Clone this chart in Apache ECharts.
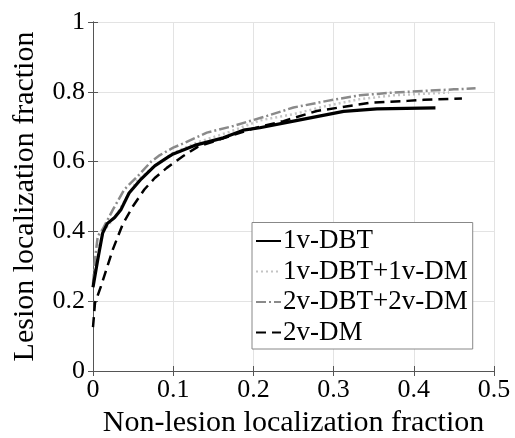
<!DOCTYPE html>
<html>
<head>
<meta charset="utf-8">
<script src="https://cdn.jsdelivr.net/npm/echarts@6/dist/echarts.min.js"></script>
<style>html,body{margin:0;padding:0;background:#fff}#c{width:515px;height:438px}</style>
</head>
<body>
<div id="c"></div>
<script>
var seriesNames = ['1v-DBT', '1v-DBT+1v-DM', '2v-DBT+2v-DM', '2v-DM'];
var xTitle = 'Non-lesion localization fraction';
var yTitle = 'Lesion localization fraction';

var dbt1v = [[0,0.24],[0.003,0.28],[0.006,0.32],[0.012,0.395],[0.018,0.423],[0.027,0.44],[0.035,0.463],[0.045,0.51],[0.06,0.55],[0.077,0.588],[0.093,0.612],[0.1,0.622],[0.129,0.648],[0.1625,0.668],[0.1875,0.69],[0.208,0.697],[0.25,0.716],[0.3125,0.744],[0.354,0.751],[0.427,0.754]];
var dbt1vdm1v = [[0,0.245],[0.004,0.3],[0.008,0.36],[0.013,0.4],[0.02,0.42],[0.03,0.45],[0.04,0.49],[0.055,0.545],[0.075,0.585],[0.1,0.625],[0.13,0.655],[0.17,0.685],[0.208,0.718],[0.25,0.736],[0.292,0.76],[0.333,0.779],[0.375,0.79],[0.444,0.798]];
var dbt2vdm2v = [[0,0.25],[0.003,0.33],[0.006,0.387],[0.012,0.406],[0.025,0.463],[0.039,0.52],[0.056,0.559],[0.0725,0.6],[0.083,0.618],[0.1,0.64],[0.1125,0.652],[0.142,0.683],[0.175,0.702],[0.217,0.731],[0.25,0.755],[0.292,0.774],[0.333,0.79],[0.375,0.798],[0.417,0.803],[0.45,0.807],[0.477,0.81]];
var dm2v = [[0,0.126],[0.0025,0.195],[0.01,0.243],[0.025,0.35],[0.037,0.42],[0.05,0.473],[0.064,0.52],[0.077,0.553],[0.092,0.582],[0.1125,0.616],[0.131,0.643],[0.16,0.665],[0.2,0.695],[0.2375,0.716],[0.279,0.745],[0.346,0.769],[0.392,0.774],[0.4125,0.777],[0.46,0.781]];

var FONT = '"Liberation Serif", "Times New Roman", serif';
var chart = echarts.init(document.getElementById('c'), null, {renderer: 'canvas'});
var axisCommon = {
  axisLine: {show: true, lineStyle: {color: '#555', width: 1}},
  axisTick: {show: true, inside: true, length: 5, lineStyle: {color: '#555'}},
  splitLine: {show: true, lineStyle: {color: '#e3e3e3', width: 1}}
};
chart.setOption({
  animation: false,
  backgroundColor: '#fff',
  grid: {left: 93, right: 21, top: 22, bottom: 67, containLabel: false, outerBoundsMode: 'none'},
  legend: {
    orient: 'vertical', left: 252, top: 222.5,
    padding: [5, 5, 3, 3],
    itemWidth: 25, itemHeight: 14, itemGap: 3.5,
    backgroundColor: '#fff', borderColor: '#888', borderWidth: 1,
    itemStyle: {opacity: 0, borderWidth: 0},
    textStyle: {fontFamily: FONT, fontSize: 27, color: '#000', lineHeight: 27, padding: [0,0,0,-3]},
    data: seriesNames
  },
  xAxis: [
    Object.assign({type: 'value', min: 0, max: 0.5, interval: 0.1,
      name: xTitle, nameLocation: 'middle', nameGap: 36,
      nameTextStyle: {fontFamily: FONT, fontSize: 30, color: '#000'},
      axisLabel: {fontFamily: FONT, fontSize: 26, color: '#000', margin: 6}}, axisCommon),
    {type: 'value', position: 'top', min: 0, max: 0.5, interval: 0.1,
      axisLine: {show: true, lineStyle: {color: '#555'}},
      axisTick: {show: true, inside: true, length: 5, lineStyle: {color: '#555'}},
      axisLabel: {show: false}, splitLine: {show: false}}
  ],
  yAxis: [
    Object.assign({type: 'value', min: 0, max: 1, interval: 0.2,
      name: yTitle, nameLocation: 'middle', nameGap: 53,
      nameTextStyle: {fontFamily: FONT, fontSize: 30, color: '#000'},
      axisLabel: {fontFamily: FONT, fontSize: 26, color: '#000', margin: 8}}, axisCommon),
    {type: 'value', position: 'right', min: 0, max: 1, interval: 0.2,
      axisLine: {show: true, lineStyle: {color: '#555'}},
      axisTick: {show: true, inside: true, length: 5, lineStyle: {color: '#555'}},
      axisLabel: {show: false}, splitLine: {show: false}}
  ],
  series: [
    {name: seriesNames[0], type: 'line', data: dbt1v, symbol: 'none', smooth: false,
      lineStyle: {color: '#000', width: 3.2, type: 'solid'}, itemStyle: {color: '#000'}, z: 5},
    {name: seriesNames[1], type: 'line', data: dbt1vdm1v, symbol: 'none',
      lineStyle: {color: '#c4c4c4', width: 2.5, type: [2, 3]}, itemStyle: {color: '#c4c4c4'}, z: 3},
    {name: seriesNames[2], type: 'line', data: dbt2vdm2v, symbol: 'none',
      lineStyle: {color: '#8a8a8a', width: 2.5, type: [10, 3, 2, 3]}, itemStyle: {color: '#8a8a8a'}, z: 4},
    {name: seriesNames[3], type: 'line', data: dm2v, symbol: 'none',
      lineStyle: {color: '#000', width: 2.5, type: [10, 6]}, itemStyle: {color: '#000'}, z: 6}
  ]
});
</script>
</body>
</html>
